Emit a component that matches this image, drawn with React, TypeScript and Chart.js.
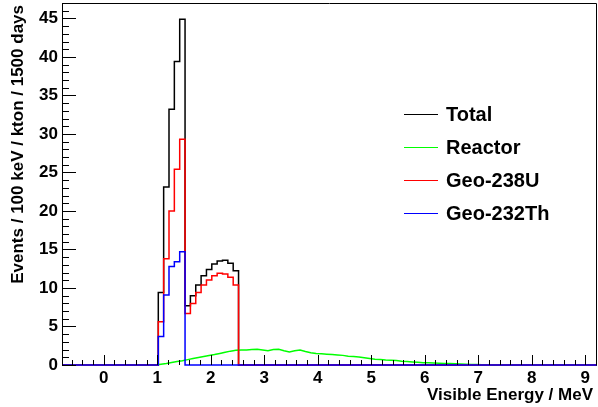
import React, { useEffect, useRef } from "react";
import { Chart, registerables } from "chart.js";
Chart.register(...registerables);

// Histogram binning (visible energy, MeV)
const X_MIN = -0.78;
const X_MAX = 9.22;
const BIN_WIDTH = 0.1;
const Y_MIN = 0;
const Y_MAX = 47;
const FIRST_SIGNAL_EDGE = 1.02; // left edge of first non-empty bin

const seriesLabels = ["Total", "Reactor", "Geo-238U", "Geo-232Th"];
const seriesColors = ["#000000", "#00ff00", "#ff0000", "#0000ff"];

// values per 0.1 MeV bin starting at FIRST_SIGNAL_EDGE
const totalValues = [9.4, 23.1, 33.2, 39.4, 44.9, 7.7, 9.0, 10.4, 11.6, 12.4, 13.1, 13.5, 13.6, 13.2, 12.25];
const geoUValues = [5.6, 13.8, 20.0, 25.4, 29.3, 6.7, 8.0, 9.4, 10.4, 11.05, 11.6, 11.9, 11.8, 11.4, 10.4];
const geoThValues = [3.7, 9.1, 12.8, 13.4, 14.7];
const reactorValues = [
  0.1, 0.2, 0.32, 0.45, 0.55, 0.7, 0.85, 0.98, 1.1, 1.22,
  1.35, 1.5, 1.65, 1.8, 1.9, 1.95, 1.95, 2.0, 2.05, 1.95,
  1.85, 2.0, 2.05, 1.85, 1.7, 1.85, 1.95, 1.75, 1.6, 1.5,
  1.45, 1.4, 1.35, 1.3, 1.25, 1.15, 1.1, 1.05, 0.95, 0.85,
  0.75, 0.7, 0.65, 0.62, 0.58, 0.5, 0.45, 0.4, 0.35, 0.3,
  0.28, 0.25, 0.22, 0.2, 0.18, 0.15, 0.13, 0.1, 0.08, 0.05,
  0.03, 0.02,
];

const xMajorTicks = [0, 1, 2, 3, 4, 5, 6, 7, 8, 9];
const yMajorTicks = [0, 5, 10, 15, 20, 25, 30, 35, 40, 45];
const xTitle = "Visible Energy / MeV";
const yTitle = "Events / 100 keV / kton / 1500 days";

const FONT = "'Liberation Sans', Arial, Helvetica, sans-serif";

const nBins = Math.round((X_MAX - X_MIN) / BIN_WIDTH);
const startBin = Math.round((FIRST_SIGNAL_EDGE - X_MIN) / BIN_WIDTH);

function binValue(arr: number[], k: number) {
  const i = k - startBin;
  if (i < 0 || i >= arr.length) return 0;
  return arr[i];
}

function histPoints(arr: number[]) {
  const pts: { x: number; y: number }[] = [];
  for (let k = 0; k < nBins; k++) pts.push({ x: X_MIN + k * BIN_WIDTH, y: binValue(arr, k) });
  pts.push({ x: X_MAX, y: 0 });
  return pts;
}

function centerPoints(arr: number[]) {
  const pts: { x: number; y: number }[] = [];
  for (let k = 0; k < nBins; k++) pts.push({ x: X_MIN + (k + 0.5) * BIN_WIDTH, y: binValue(arr, k) });
  return pts;
}

const framePlugin = {
  id: "rootFrame",
  afterDatasetsDraw(chart: any) {
    const { ctx, chartArea: a, scales } = chart;
    const xs = scales.x;
    const ys = scales.y;
    ctx.save();
    ctx.strokeStyle = "#000";
    ctx.lineWidth = 1;
    // frame
    ctx.beginPath();
    ctx.moveTo(a.left + 0.5, a.bottom + 0.5);
    ctx.lineTo(a.left + 0.5, a.top + 0.5);
    ctx.lineTo(a.right - 0.5, a.top + 0.5);
    ctx.lineTo(a.right - 0.5, a.bottom + 0.5);
    ctx.stroke();
    // y ticks
    ctx.beginPath();
    for (let v = Y_MIN; v <= Y_MAX; v++) {
      const y = Math.round(ys.getPixelForValue(v)) + 0.5;
      const len = yMajorTicks.includes(v) ? 14 : 7;
      ctx.moveTo(a.left, y);
      ctx.lineTo(a.left + len, y);
    }
    // x ticks
    const i0 = Math.ceil(X_MIN / 0.2 - 1e-6);
    const i1 = Math.floor(X_MAX / 0.2 + 1e-6);
    for (let i = i0; i <= i1; i++) {
      const v = i * 0.2;
      const x = Math.round(xs.getPixelForValue(v)) + 0.5;
      const major = xMajorTicks.some((t) => Math.abs(t - v) < 1e-6);
      const len = major ? 10 : 5;
      ctx.moveTo(x, a.bottom);
      ctx.lineTo(x, a.bottom - len);
    }
    ctx.stroke();

    // tick labels
    ctx.fillStyle = "#000";
    ctx.font = `bold 17px ${FONT}`;
    ctx.textAlign = "right";
    ctx.textBaseline = "middle";
    for (const v of yMajorTicks) ctx.fillText(String(v), a.left - 4, ys.getPixelForValue(v));
    ctx.textAlign = "center";
    for (const v of xMajorTicks) ctx.fillText(String(v), xs.getPixelForValue(v), a.bottom + 13);

    // titles
    ctx.textAlign = "right";
    ctx.fillText(xTitle, 593, 395);
    ctx.save();
    ctx.translate(18, 5);
    ctx.rotate(-Math.PI / 2);
    ctx.textAlign = "right";
    ctx.fillText(yTitle, 0, 0);
    ctx.restore();

    // legend
    const rows = [114, 147, 180, 213];
    ctx.font = `bold 20px ${FONT}`;
    ctx.textAlign = "left";
    seriesLabels.forEach((lab, i) => {
      const y = rows[i];
      ctx.strokeStyle = seriesColors[i];
      ctx.lineWidth = 1;
      ctx.beginPath();
      ctx.moveTo(404, y + 0.5);
      ctx.lineTo(438, y + 0.5);
      ctx.stroke();
      ctx.fillStyle = "#000";
      ctx.fillText(lab, 446, y + 1);
    });
    ctx.restore();
  },
};

export default function App() {
  const ref = useRef<HTMLCanvasElement | null>(null);
  useEffect(() => {
    if (!ref.current) return;
    const common = { pointRadius: 0, borderWidth: 1.5, fill: false, clip: false as any, tension: 0 };
    const chart = new Chart(ref.current, {
      type: "line",
      data: {
        datasets: [
          { ...common, label: seriesLabels[0], data: histPoints(totalValues), borderColor: seriesColors[0], stepped: "before", order: 3 },
          { ...common, label: seriesLabels[1], data: centerPoints(reactorValues), borderColor: seriesColors[1], order: 2 },
          { ...common, label: seriesLabels[2], data: histPoints(geoUValues), borderColor: seriesColors[2], stepped: "before", order: 1 },
          { ...common, label: seriesLabels[3], data: histPoints(geoThValues), borderColor: seriesColors[3], stepped: "before", order: 0 },
        ] as any,
      },
      options: {
        animation: false,
        responsive: false,
        devicePixelRatio: 1,
        layout: { padding: { left: 62, top: 3, right: 1, bottom: 42 } },
        plugins: { legend: { display: false }, tooltip: { enabled: false } },
        scales: {
          x: { type: "linear", min: X_MIN, max: X_MAX, display: false },
          y: { type: "linear", min: Y_MIN, max: Y_MAX, display: false },
        },
      },
      plugins: [framePlugin],
    });
    return () => chart.destroy();
  }, []);
  return (
    <div style={{ position: "fixed", left: 0, top: 0, width: 598, height: 407, background: "#fff" }}>
      <canvas ref={ref} width={598} height={407} style={{ width: 598, height: 407 }} />
    </div>
  );
}
